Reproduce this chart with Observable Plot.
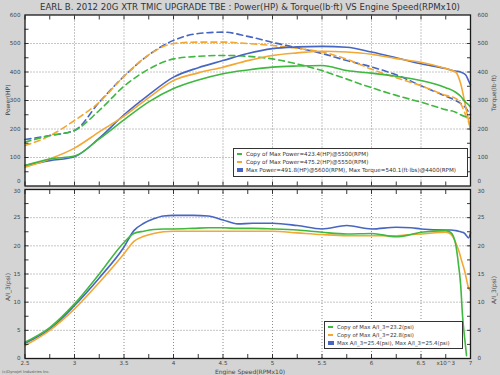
<!DOCTYPE html>
<html><head><meta charset="utf-8">
<script src="https://cdn.jsdelivr.net/npm/d3@7"></script>
<script src="https://cdn.jsdelivr.net/npm/@observablehq/plot@0.6"></script>
<style>
html,body{margin:0;padding:0;background:#d4d4d4;}
#root{position:relative;width:500px;height:375px;background:#d4d4d4;font-family:"DejaVu Sans",sans-serif;overflow:hidden;color:#333}
.abs{position:absolute;white-space:nowrap}
.rot{transform:translate(-50%,-50%) rotate(-90deg)}
.leg{position:absolute;background:#fff;border:1px solid #333;box-sizing:border-box;padding:1px 3px;}
.leg div{display:flex;align-items:center;height:8.2px;}
.sw{display:inline-block;width:5px;height:2px;margin-right:4px;}
svg{position:absolute;left:0}
</style></head>
<body><div id="root"></div>
<script>
// ---------- data ----------
const title = "EARL B. 2012 20G XTR TMIC UPGRADE TBE : Power(HP) & Torque(lb·ft) VS Engine Speed(RPMx10)";
const colors = {green:"#3fb83f", orange:"#f2a833", blue:"#4766c2"};

// Engine speed (x1000 RPM)
const rpm = [2.5,2.75,3.0,3.25,3.5,3.75,4.0,4.25,4.5,4.75,5.0,5.25,5.5,5.75,6.0,6.25,6.5,6.75,6.85,6.9,6.95,6.98,7.0];
// Power (HP)
const bluePower   = [72,89,103,168,250,320,382,415,440,465,482,488,490,487,470,450,429,412,403,400,390,370,355];
const orangePower = [66,95,133,190,245,310,370,397,417,440,458,467,473,470,462,447,434,412,400,360,280,230,195];
const greenPower  = [72,95,105,165,232,295,342,372,394,407,417,421,423,405,396,385,370,345,329,315,294,285,277];
// Torque (lb·ft)
const blueTorque   = [163,177,195,294,385,460,511,535,540,525,504,485,465,440,418,390,352,315,300,290,275,260,250];
const orangeTorque = [142,176,230,294,385,460,500,505,505,500,493,483,470,445,410,380,352,318,307,290,250,225,210];
const greenTorque  = [154,177,195,265,350,410,446,455,458,455,446,428,405,375,345,318,294,268,259,250,243,240,237];

// A/I_3 (psi)
const rpm2 = [2.5,2.75,3.0,3.25,3.5,3.6,3.7,3.8,3.9,4.0,4.2,4.35,4.5,4.65,4.8,5.0,5.25,5.5,5.75,6.0,6.25,6.4,6.5,6.75,6.8,6.85,6.88,6.9,6.92,6.94,6.96,6.98,7.0];
const blueAfr   = [2.7,5.2,9.4,14.3,19.8,22.7,24.0,24.8,25.3,25.4,25.4,25.3,24.6,23.9,24.0,24.0,23.6,23.0,23.6,23.0,23.3,23.2,23.0,22.8,22.8,22.7,22.6,22.5,22.4,22.2,21.8,21.4,22.3];
const greenAfr  = [2.9,5.5,9.7,15.0,20.6,22.2,22.6,22.9,23.0,23.0,23.1,23.2,23.2,23.1,23.1,23.0,22.8,22.4,22.1,22.2,21.6,22.0,22.4,22.7,22.4,20.3,16.5,13.2,7.5,3.8,0.5,null,null];
const orangeAfr = [2.3,5.0,8.8,13.5,18.6,20.8,21.7,22.2,22.5,22.6,22.6,22.6,22.6,22.6,22.6,22.6,22.3,22.0,21.8,21.8,21.8,22.0,22.1,22.4,22.1,20.6,19.2,18.0,16.8,15.6,14.0,12.5,12.0];

// ticks
const xMajor = [3,3.5,4,4.5,5,5.5,6,6.5];
const xMinor = [2.5,2.75,3,3.25,3.5,3.75,4,4.25,4.5,4.75,5,5.25,5.5,5.75,6,6.25,6.5,6.75,7];
const xLabels = [2.5,3,3.5,4,4.5,5,5.5,6,6.5,6.75,7];
const yTopMajor = [100,200,300,400,500,600];
const yTopZero = [0];
const yTopMinor = [50,100,150,200,250,300,350,400,450,500,550];
const yBotMajor = [0,5,10,15,20,25];
const yBotTop = [30];
const yBotMinor = [2.5,5,7.5,10,12.5,15,17.5,20,22.5,25,27.5];

const legendTop = [
  ["Copy of Max Power=423.4(HP)@5500(RPM)", "green"],
  ["Copy of Max Power=475.2(HP)@5550(RPM)", "orange"],
  ["Max Power=491.8(HP)@5600(RPM), Max Torque=540.1(ft·lbs)@4400(RPM)", "blue"]
];
const legendBot = [
  ["Copy of Max A/I_3=23.2(psi)", "green"],
  ["Copy of Max A/I_3=22.8(psi)", "orange"],
  ["Max A/I_3=25.4(psi), Max A/I_3=25.4(psi)", "blue"]
];

// ---------- drawing ----------
const root = document.getElementById("root");
const font = {background:"transparent", fontFamily:"DejaVu Sans, sans-serif", fontSize:"5.6px", color:"#444", overflow:"visible"};
const tickStyle = {stroke:"#222", strokeWidth:0.9, fill:"none", label:null, tickSize:-4};
const lw = 1.6;

function yLabels(ticks, dy) {
  return [
    Plot.axisY(ticks, {anchor:"left", tickSize:0, tickPadding:4.5, label:null, fill:"#444", dy}),
    Plot.axisY(ticks, {anchor:"right", tickSize:0, tickPadding:7, label:null, fill:"#444", textAnchor:"start", dy})
  ];
}

function frameMarks(xTicks, yMinorT, labelMarks) {
  return [
    Plot.axisX(xTicks, {...tickStyle, anchor:"bottom"}),
    Plot.axisX(xTicks, {...tickStyle, anchor:"top"}),
    Plot.axisY(yMinorT, {...tickStyle, anchor:"left"}),
    Plot.axisY(yMinorT, {...tickStyle, anchor:"right"}),
    ...labelMarks,
    Plot.frame({stroke:"#1a1a1a", strokeWidth:1.3})
  ];
}

const topPlot = Plot.plot({
  width:500, height:188, marginTop:14.5, marginBottom:2.5, marginLeft:24.5, marginRight:30,
  style:font,
  x:{domain:[2.5,7], axis:null},
  y:{domain:[0,600], axis:null},
  marks:[
    Plot.frame({fill:"white", stroke:null}),
    Plot.gridX(xMajor, {stroke:"#8c8c8c", strokeOpacity:1, strokeDasharray:"1,2"}),
    Plot.gridY([100,200,300,400,500], {stroke:"#8c8c8c", strokeOpacity:1, strokeDasharray:"1,2"}),
    Plot.line(rpm, {x:d=>d, y:(d,i)=>blueTorque[i], stroke:colors.blue, strokeWidth:lw, strokeDasharray:"6,4", curve:"monotone-x"}),
    Plot.line(rpm, {x:d=>d, y:(d,i)=>orangeTorque[i], stroke:colors.orange, strokeWidth:lw, strokeDasharray:"6,4", curve:"monotone-x"}),
    Plot.line(rpm, {x:d=>d, y:(d,i)=>greenTorque[i], stroke:colors.green, strokeWidth:lw, strokeDasharray:"6,4", curve:"monotone-x"}),
    Plot.line(rpm, {x:d=>d, y:(d,i)=>bluePower[i], stroke:colors.blue, strokeWidth:lw, curve:"monotone-x"}),
    Plot.line(rpm, {x:d=>d, y:(d,i)=>orangePower[i], stroke:colors.orange, strokeWidth:lw, curve:"monotone-x"}),
    Plot.line(rpm, {x:d=>d, y:(d,i)=>greenPower[i], stroke:colors.green, strokeWidth:lw, curve:"monotone-x"}),
    ...frameMarks(xMinor, yTopMinor, [...yLabels(yTopMajor, 0), ...yLabels(yTopZero, -4.5)])
  ]
});
topPlot.style.top = "0px";
root.appendChild(topPlot);

const botPlot = Plot.plot({
  width:500, height:189, marginTop:3, marginBottom:17, marginLeft:24.5, marginRight:30,
  style:font,
  x:{domain:[2.5,7], axis:null},
  y:{domain:[0,30], axis:null},
  marks:[
    Plot.frame({fill:"white", stroke:null}),
    Plot.gridX(xMajor, {stroke:"#8c8c8c", strokeOpacity:1, strokeDasharray:"1,2"}),
    Plot.gridY([5,10,15,20,25], {stroke:"#8c8c8c", strokeOpacity:1, strokeDasharray:"1,2"}),
    Plot.line(rpm2, {x:d=>d, y:(d,i)=>blueAfr[i], stroke:colors.blue, strokeWidth:lw, curve:"monotone-x"}),
    Plot.line(rpm2, {x:d=>d, y:(d,i)=>orangeAfr[i], stroke:colors.orange, strokeWidth:lw, curve:"monotone-x"}),
    Plot.line(rpm2, {x:d=>d, y:(d,i)=>greenAfr[i], stroke:colors.green, strokeWidth:lw, curve:"monotone-x"}),
    ...frameMarks(xMinor, yBotMinor, [
      ...yLabels(yBotMajor, 0), ...yLabels(yBotTop, 1.5),
      Plot.axisX(xLabels, {anchor:"bottom", tickSize:0, tickPadding:3, label:null, fill:"#444",
        tickFormat:d => d === 6.75 ? "x10^3" : String(d)})
    ])
  ]
});
botPlot.style.top = "186px";
root.appendChild(botPlot);

function addText(txt, css, cls) {
  const d = document.createElement("div");
  d.className = "abs" + (cls ? " " + cls : "");
  d.textContent = txt;
  Object.assign(d.style, css);
  root.appendChild(d);
  return d;
}
addText(title, {left:"0px", width:"500px", top:"2px", textAlign:"center", fontSize:"8.6px", color:"#333"});
addText("Power(HP)", {left:"7px", top:"100px", fontSize:"6px", color:"#444"}, "rot");
addText("Torque(lb·ft)", {left:"493px", top:"93px", fontSize:"6px", color:"#444"}, "rot");
addText("A/I_3(psi)", {left:"7px", top:"287px", fontSize:"6px", color:"#444"}, "rot");
addText("A/I_3(psi)", {left:"493px", top:"290px", fontSize:"6px", color:"#444"}, "rot");
addText("Engine Speed(RPMx10)", {left:"250px", top:"370.5px", transform:"translate(-50%,-50%)", fontSize:"6px", color:"#444"});
addText("(c)Dynojet Industries Inc.", {left:"2px", top:"369px", fontSize:"3.8px", color:"#555"});

function addLegend(items, css, fs) {
  const box = document.createElement("div");
  box.className = "leg";
  Object.assign(box.style, css);
  items.forEach(([t, c]) => {
    const row = document.createElement("div");
    const sw = document.createElement("span");
    sw.className = "sw";
    sw.style.background = colors[c];
    if (c === "blue") { sw.style.height = "4px"; sw.style.width = "6px"; sw.style.marginRight = "3px"; }
    const tx = document.createElement("span");
    tx.textContent = t;
    tx.style.fontSize = fs;
    row.appendChild(sw); row.appendChild(tx);
    box.appendChild(row);
  });
  root.appendChild(box);
}
addLegend(legendTop, {left:"233px", top:"148px", width:"235px", height:"29px"}, "5.6px");
addLegend(legendBot, {left:"324px", top:"321px", width:"139px", height:"28px"}, "5.4px");
</script></body></html>
